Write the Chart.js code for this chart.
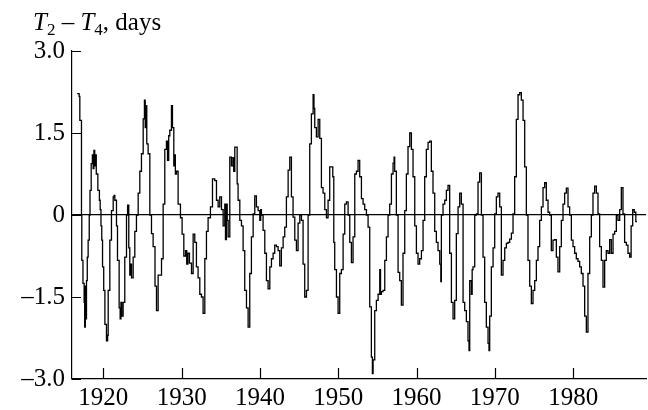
<!DOCTYPE html>
<html>
<head>
<meta charset="utf-8">
<script src="https://cdn.jsdelivr.net/npm/chart.js@4.4.1/dist/chart.umd.min.js"></script>
<style>
html, body { margin: 0; padding: 0; background: #fff; }
</style>
</head>
<body>
<canvas id="lineChart" width="648" height="410"></canvas>
<script>
// T2 - T4 series (years, days)
var years = [
    1916.66, 1916.91, 1917.00, 1917.21, 1917.25, 1917.40, 1917.55, 1917.62, 1917.70, 1917.77,
    1917.85, 1917.95, 1918.06, 1918.20, 1918.30, 1918.45, 1918.60, 1918.70, 1918.80, 1918.90,
    1919.00, 1919.10, 1919.30, 1919.50, 1919.60, 1919.70, 1919.80, 1919.90, 1920.05, 1920.20,
    1920.40, 1920.55, 1920.62, 1920.83, 1921.04, 1921.26, 1921.38, 1921.47, 1921.68, 1921.81,
    1922.02, 1922.15, 1922.25, 1922.35, 1922.53, 1922.74, 1922.96, 1923.10, 1923.25, 1923.38,
    1923.50, 1923.60, 1923.81, 1924.02, 1924.23, 1924.45, 1924.66, 1924.87, 1925.09, 1925.25,
    1925.35, 1925.45, 1925.55, 1925.72, 1925.94, 1926.15, 1926.36, 1926.60, 1926.79, 1927.00,
    1927.43, 1927.64, 1927.85, 1928.06, 1928.20, 1928.35, 1928.49, 1928.70, 1928.83, 1929.00,
    1929.10, 1929.20, 1929.34, 1929.55, 1929.85, 1930.06, 1930.28, 1930.50, 1930.65, 1930.80,
    1931.00, 1931.26, 1931.47, 1931.68, 1931.89, 1932.10, 1932.32, 1932.53, 1932.74, 1932.96,
    1933.17, 1933.38, 1933.68, 1933.94, 1934.23, 1934.45, 1934.66, 1934.87, 1935.09, 1935.30,
    1935.51, 1935.60, 1935.72, 1935.82, 1935.94, 1936.15, 1936.36, 1936.55, 1936.65, 1936.79,
    1937.09, 1937.21, 1937.43, 1937.64, 1937.85, 1938.06, 1938.28, 1938.49, 1938.70, 1938.91,
    1939.13, 1939.34, 1939.55, 1939.77, 1939.98, 1940.10, 1940.19, 1940.40, 1940.62, 1940.83,
    1941.04, 1941.26, 1941.47, 1941.68, 1941.89, 1942.11, 1942.32, 1942.53, 1942.74, 1942.96,
    1943.17, 1943.38, 1943.60, 1943.81, 1944.02, 1944.23, 1944.45, 1944.66, 1944.87, 1945.09,
    1945.30, 1945.51, 1945.72, 1945.94, 1946.15, 1946.36, 1946.57, 1946.79, 1946.90, 1947.00,
    1947.21, 1947.43, 1947.64, 1947.85, 1948.06, 1948.28, 1948.49, 1948.70, 1948.91, 1949.30,
    1949.43, 1949.55, 1949.77, 1949.98, 1950.19, 1950.40, 1950.62, 1950.83, 1951.04, 1951.26,
    1951.47, 1951.68, 1951.89, 1952.11, 1952.32, 1952.53, 1952.74, 1952.96, 1953.17, 1953.38,
    1953.60, 1953.81, 1954.02, 1954.23, 1954.36, 1954.45, 1954.66, 1954.87, 1955.09, 1955.30,
    1955.40, 1955.51, 1955.72, 1955.94, 1956.15, 1956.36, 1956.57, 1956.79, 1957.00, 1957.13,
    1957.21, 1957.42, 1957.64, 1957.85, 1958.06, 1958.27, 1958.49, 1958.70, 1958.91, 1959.13,
    1959.34, 1959.55, 1959.77, 1959.98, 1960.19, 1960.40, 1960.62, 1960.83, 1961.04, 1961.25,
    1961.47, 1961.68, 1961.89, 1962.10, 1962.32, 1962.53, 1962.74, 1962.96, 1963.10, 1963.17,
    1963.38, 1963.60, 1963.81, 1964.02, 1964.23, 1964.45, 1964.66, 1964.87, 1965.08, 1965.30,
    1965.51, 1965.72, 1965.94, 1966.15, 1966.36, 1966.57, 1966.70, 1966.79, 1967.00, 1967.10,
    1967.21, 1967.43, 1967.64, 1967.85, 1968.06, 1968.28, 1968.49, 1968.70, 1968.91, 1969.13,
    1969.25, 1969.34, 1969.55, 1969.77, 1969.98, 1970.19, 1970.40, 1970.62, 1970.83, 1971.04,
    1971.26, 1971.47, 1971.68, 1971.89, 1972.11, 1972.32, 1972.53, 1972.74, 1972.96, 1973.17,
    1973.38, 1973.60, 1973.81, 1974.02, 1974.23, 1974.45, 1974.66, 1974.87, 1975.09, 1975.30,
    1975.51, 1975.72, 1975.94, 1976.15, 1976.36, 1976.57, 1976.79, 1977.00, 1977.21, 1977.42,
    1977.64, 1977.85, 1978.06, 1978.28, 1978.49, 1978.70, 1978.91, 1979.13, 1979.34, 1979.55,
    1979.77, 1979.98, 1980.19, 1980.40, 1980.62, 1980.83, 1981.04, 1981.26, 1981.47, 1981.68,
    1981.89, 1982.11, 1982.32, 1982.53, 1982.74, 1982.96, 1983.17, 1983.38, 1983.60, 1983.81,
    1984.02, 1984.23, 1984.45, 1984.66, 1984.87, 1985.09, 1985.30, 1985.51, 1985.72, 1985.94,
    1986.15, 1986.36, 1986.57, 1986.79, 1987.00, 1987.21, 1987.40, 1987.60, 1987.80, 1988.00,
    1988.15
];
var values = [
    2.22, 2.17, 1.73, 0.00, -0.83, -1.25, -1.60, -2.05, -1.30, -1.90,
    -1.20, -0.77, -0.46, 0.00, 0.45, 0.94, 1.10, 0.85, 1.18, 0.90,
    1.10, 0.75, 0.45, 0.27, 0.10, -0.20, -0.46, -0.95, -1.38, -2.00,
    -2.30, -2.20, -1.38, -0.46, 0.08, 0.33, 0.36, 0.27, -0.20, -0.83,
    -1.70, -1.90, -1.60, -1.85, -1.60, -0.77, 0.00, 0.18, -0.60, -1.10,
    -0.90, -1.15, -0.77, -0.30, 0.00, 0.40, 0.80, 1.12, 1.76, 2.10,
    1.60, 2.00, 1.30, 1.12, 0.00, -0.34, -0.58, -1.30, -1.75, -1.10,
    -0.80, 0.20, 1.20, 1.35, 1.00, 1.45, 1.55, 2.00, 1.60, 0.90,
    1.10, 0.75, 0.80, 0.20, -0.05, -0.35, -0.75, -0.65, -0.90, -0.70,
    -0.88, -1.07, -0.35, -0.50, -0.95, -1.15, -1.45, -1.50, -1.80, -0.80,
    -0.30, -0.05, 0.15, 0.66, 0.63, 0.27, 0.15, 0.33, 0.10, -0.20,
    0.20, -0.45, 0.20, -0.10, -0.40, 1.06, 0.90, 1.05, 0.80, 1.24,
    0.57, 0.27, -0.10, -0.20, -0.65, -1.38, -1.70, -2.05, -1.07, -0.40,
    0.02, 0.35, 0.15, 0.08, -0.10, 0.10, 0.00, -0.28, -0.70, -1.20,
    -1.35, -0.95, -0.80, -0.70, -0.55, -0.58, -0.65, -0.93, -0.60, -0.40,
    -0.22, 0.33, 0.82, 1.06, 0.33, -0.04, -0.46, -0.65, -0.15, 0.00,
    -0.10, -0.90, -1.50, -1.38, 0.00, 1.30, 1.85, 2.20, 1.95, 1.60,
    1.43, 1.75, 1.40, 0.50, 0.40, 0.10, -0.05, 0.27, 0.88, 0.70,
    -0.50, -1.00, -1.50, -1.80, -1.07, -1.00, -0.35, 0.20, 0.24, 0.00,
    -0.50, -0.87, -0.40, 0.75, 0.80, 1.00, 0.70, 0.30, 0.20, 0.10,
    0.00, -0.22, -1.68, -2.60, -2.90, -2.65, -1.75, -1.56, -1.45, -1.00,
    -1.45, -1.40, -1.38, -0.83, -0.40, 0.00, 0.20, 0.75, 0.95, 1.06,
    0.80, 0.00, -1.05, -1.20, -1.65, -0.70, 0.08, 0.75, 1.25, 1.50,
    1.20, 0.70, -0.20, -0.70, -0.90, -0.80, -0.65, -0.10, 0.70, 1.20,
    1.33, 1.35, 0.80, 0.40, -0.30, -0.50, -0.65, -0.90, -1.22, 0.00,
    0.20, 0.27, 0.45, 0.54, -0.70, -1.60, -1.90, -1.56, -0.34, 0.15,
    0.40, 0.20, -1.60, -1.75, -1.95, -2.30, -2.48, -1.20, -1.45, -1.00,
    -0.95, 0.00, 0.02, 0.60, 0.77, 0.00, -0.77, -1.60, -2.05, -2.35,
    -2.48, -1.85, -0.95, -0.60, 0.02, 0.33, 0.40, 0.15, -1.10, -0.83,
    -0.60, -0.52, -0.50, -0.44, -0.33, 0.02, 0.70, 1.75, 2.20, 2.24,
    2.10, 1.73, 0.88, 0.00, -0.83, -1.30, -1.62, -1.38, -1.20, -0.83,
    -0.58, -0.10, 0.15, 0.50, 0.59, 0.27, 0.05, 0.00, -0.65, -0.46,
    -0.45, -0.77, -1.04, -0.58, -0.10, 0.20, 0.40, 0.49, 0.15, 0.00,
    -0.46, -0.58, -0.70, -0.80, -0.85, -0.95, -1.07, -1.30, -1.85, -2.14,
    -1.07, -0.40, 0.00, 0.40, 0.53, 0.40, 0.02, -0.58, -0.83, -1.32,
    -0.83, -0.65, -0.70, -0.45, -0.70, -0.35, -0.30, 0.00, -0.10, 0.10,
    0.50, 0.02, -0.50, -0.55, -0.70, -0.77, -0.20, 0.10, 0.05, -0.12,
    -0.12
];
var xTicks = [1920, 1930, 1940, 1950, 1960, 1970, 1980];
var yTicks = [-3, -1.5, 0, 1.5, 3];
var yLabels = ['\u20133.0', '\u20131.5', '0', '1.5', '3.0'];

var serif = "'Liberation Serif', 'Times New Roman', serif";
Chart.defaults.font.family = serif;
Chart.defaults.font.size = 25;
Chart.defaults.color = '#000';

var points = years.map(function (yr, i) { return {x: yr, y: values[i]}; });

// inward tick marks and the axis title
var innerTicks = {
    id: 'innerTicks',
    afterDraw: function (chart) {
        var ctx = chart.ctx, a = chart.chartArea;
        var xs = chart.scales.x, ys = chart.scales.y;
        ctx.save();
        ctx.strokeStyle = '#000';
        ctx.lineWidth = 1.2;
        ctx.beginPath();
        xTicks.forEach(function (v) {
            var px = Math.round(xs.getPixelForValue(v)) + 0.5;
            ctx.moveTo(px, a.bottom);
            ctx.lineTo(px, a.bottom - 11);
        });
        yTicks.forEach(function (v) {
            var py = Math.round(ys.getPixelForValue(v)) + 0.5;
            ctx.moveTo(a.left, py);
            ctx.lineTo(a.left + 9, py);
        });
        ctx.stroke();

        var x = 33, y = 30;
        ctx.fillStyle = '#000';
        ctx.textAlign = 'left';
        ctx.textBaseline = 'alphabetic';
        function put(txt, font, dy) {
            ctx.font = font;
            ctx.fillText(txt, x, y + dy);
            x += ctx.measureText(txt).width;
        }
        put('T', 'italic 25px ' + serif, 0);
        put('2', '17px ' + serif, 5);
        put(' \u2013 ', '25px ' + serif, 0);
        put('T', 'italic 25px ' + serif, 0);
        put('4', '17px ' + serif, 5);
        put(', days', '25px ' + serif, 0);
        ctx.restore();
    }
};

var ctxL = document.getElementById('lineChart').getContext('2d');
var myLineChart = new Chart(ctxL, {
    type: 'line',
    data: {
        datasets: [{
            data: points,
            stepped: true,
            borderColor: '#000',
            borderWidth: 1.3,
            pointRadius: 0,
            fill: false
        }]
    },
    options: {
        responsive: false,
        animation: false,
        devicePixelRatio: 1,
        layout: {padding: {top: 51, right: 2, bottom: 0, left: 0}},
        plugins: {legend: {display: false}, tooltip: {enabled: false}},
        scales: {
            x: {
                type: 'linear',
                min: 1916,
                max: 1989.3,
                afterBuildTicks: function (scale) {
                    scale.ticks = xTicks.map(function (v) { return {value: v}; });
                },
                afterFit: function (scale) { scale.height = 31; },
                ticks: {padding: -4, maxRotation: 0, autoSkip: false,
                    callback: function (v) { return String(v); }},
                grid: {display: false},
                border: {display: true, color: '#000', width: 1.2}
            },
            y: {
                min: -3,
                max: 3,
                afterBuildTicks: function (scale) {
                    scale.ticks = yTicks.map(function (v) { return {value: v}; });
                },
                afterFit: function (scale) { scale.width = 72; },
                ticks: {padding: 7, autoSkip: false,
                    callback: function (v) { return yLabels[yTicks.indexOf(v)]; }},
                grid: {
                    drawTicks: false,
                    lineWidth: 1.2,
                    color: function (c) { return c.tick && c.tick.value === 0 ? '#000' : 'rgba(0,0,0,0)'; }
                },
                border: {display: true, color: '#000', width: 1.2}
            }
        }
    },
    plugins: [innerTicks]
});
</script>
</body>
</html>
